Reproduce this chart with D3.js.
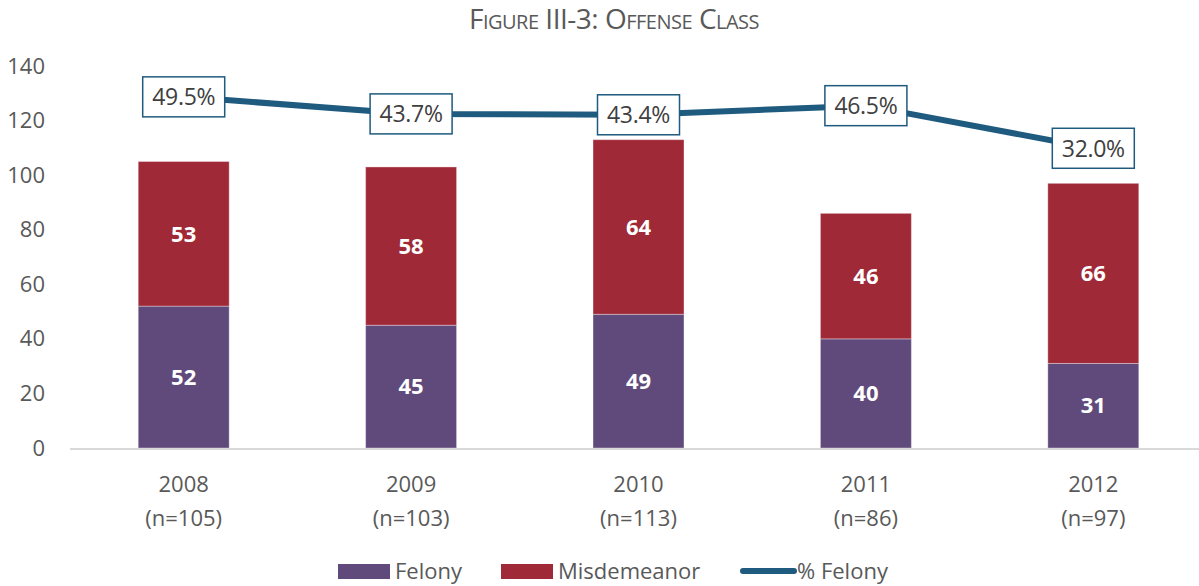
<!DOCTYPE html>
<html>
<head>
<meta charset="utf-8">
<script src="https://cdn.jsdelivr.net/npm/d3@7"></script>
<style>
  html, body { margin: 0; padding: 0; background: #fff; }
  svg { display: block; }
</style>
</head>
<body>
<svg id="chart" width="1199" height="586"></svg>
<script>
// Offense class by year
const years = ["2008", "2009", "2010", "2011", "2012"];
const totals = [105, 103, 113, 86, 97];
const felony = [52, 45, 49, 40, 31];
const misdemeanor = [53, 58, 64, 46, 66];
const pctFelony = [0.495, 0.437, 0.434, 0.465, 0.320];
const yTicks = [0, 20, 40, 60, 80, 100, 120, 140];

(function () {
const colors = { felony: "#604A7B", misdemeanor: "#A02937", line: "#1F5A7F", text: "#595959" };
const font = "'Open Sans', 'Noto Sans', sans-serif";

const svg = d3.select("#chart");
const plotLeft = 70, plotRight = 1207, plotTop = 66, plotBottom = 448;

const x = d3.scaleBand().domain(years).range([plotLeft, plotRight]).paddingInner(0.6).paddingOuter(0.3);
const y = d3.scaleLinear().domain([0, 140]).range([plotBottom, plotTop]);
// secondary (hidden) axis for the percentage line
const y2 = d3.scaleLinear().domain([-0.7, 0.6]).range([plotBottom, plotTop]);

// title
svg.append("text")
  .attr("x", 614).attr("y", 29)
  .attr("text-anchor", "middle")
  .style("font-family", font).style("font-size", "28px")
  .style("font-variant", "small-caps").style("fill", colors.text)
  .style("letter-spacing", "-0.5px")
  .text("Figure III-3: Offense Class");

// y axis labels
const yAxis = d3.axisLeft(y).tickValues(yTicks).tickSize(0).tickPadding(0);
const yg = svg.append("g").attr("transform", `translate(45,0)`).call(yAxis);
yg.select(".domain").remove();
yg.selectAll("text")
  .style("font-family", font).style("font-size", "22px").style("fill", colors.text);

// stacked data
const rows = years.map((yr, i) => ({ year: yr, felony: felony[i], misdemeanor: misdemeanor[i] }));
const stack = d3.stack().keys(["felony", "misdemeanor"])(rows);

const groups = svg.append("g").selectAll("g").data(stack).join("g")
  .attr("fill", d => colors[d.key]);

groups.selectAll("rect").data(d => d).join("rect")
  .attr("x", d => x(d.data.year))
  .attr("width", x.bandwidth())
  .attr("y", d => y(d[1]))
  .attr("height", d => y(d[0]) - y(d[1]))
  .attr("stroke", "rgba(255,255,255,0.35)")
  .attr("stroke-width", 1);

// segment value labels
groups.selectAll("text").data(d => d).join("text")
  .attr("x", d => x(d.data.year) + x.bandwidth() / 2)
  .attr("y", d => y((d[0] + d[1]) / 2))
  .attr("dy", "0.35em")
  .attr("text-anchor", "middle")
  .style("font-family", font).style("font-size", "22px").style("font-weight", "bold")
  .style("fill", "#fff")
  .text(d => d[1] - d[0]);

// baseline
svg.append("line")
  .attr("x1", plotLeft).attr("x2", 1199)
  .attr("y1", plotBottom + 1).attr("y2", plotBottom + 1)
  .attr("stroke", "#D9D9D9").attr("stroke-width", 2);

// x labels
const xl = svg.append("g").selectAll("text").data(years).join("text")
  .attr("x", d => x(d) + x.bandwidth() / 2)
  .attr("text-anchor", "middle")
  .style("font-family", font).style("font-size", "22px").style("fill", colors.text);
xl.append("tspan").attr("x", d => x(d) + x.bandwidth() / 2).attr("y", 492).text(d => d);
xl.append("tspan").attr("x", d => x(d) + x.bandwidth() / 2).attr("y", 526).text((d, i) => `(n=${totals[i]})`);

// percentage line
const pts = years.map((yr, i) => [x(yr) + x.bandwidth() / 2, y2(pctFelony[i])]);
svg.append("path")
  .attr("d", d3.line()(pts))
  .attr("fill", "none").attr("stroke", colors.line)
  .attr("stroke-width", 6).attr("stroke-linejoin", "round").attr("stroke-linecap", "round");

// percentage labels in boxes
const lab = svg.append("g").selectAll("g").data(pts).join("g")
  .attr("transform", d => `translate(${d[0]},${d[1]})`);
lab.append("rect")
  .attr("x", -41).attr("y", -20).attr("width", 82).attr("height", 40)
  .attr("fill", "#fff").attr("stroke", colors.line).attr("stroke-width", 1.5);
lab.append("text")
  .attr("text-anchor", "middle").attr("dy", "0.36em")
  .style("font-family", font).style("font-size", "23px").style("fill", "#404040")
  .style("letter-spacing", "-0.3px")
  .text((d, i) => d3.format(".1%")(pctFelony[i]));

// legend
const lg = svg.append("g");
lg.append("rect").attr("x", 338).attr("y", 564).attr("width", 52).attr("height", 15).attr("fill", colors.felony);
lg.append("text").attr("x", 395).attr("y", 579).text("Felony");
lg.append("rect").attr("x", 501).attr("y", 564).attr("width", 52).attr("height", 15).attr("fill", colors.misdemeanor);
lg.append("text").attr("x", 558).attr("y", 579).text("Misdemeanor");
lg.append("line").attr("x1", 743).attr("x2", 794).attr("y1", 571).attr("y2", 571)
  .attr("stroke", colors.line).attr("stroke-width", 6).attr("stroke-linecap", "round");
lg.append("text").attr("x", 797).attr("y", 579).text("% Felony");
lg.selectAll("text")
  .style("font-family", font).style("font-size", "22px").style("fill", colors.text);
})();
</script>
</body>
</html>
